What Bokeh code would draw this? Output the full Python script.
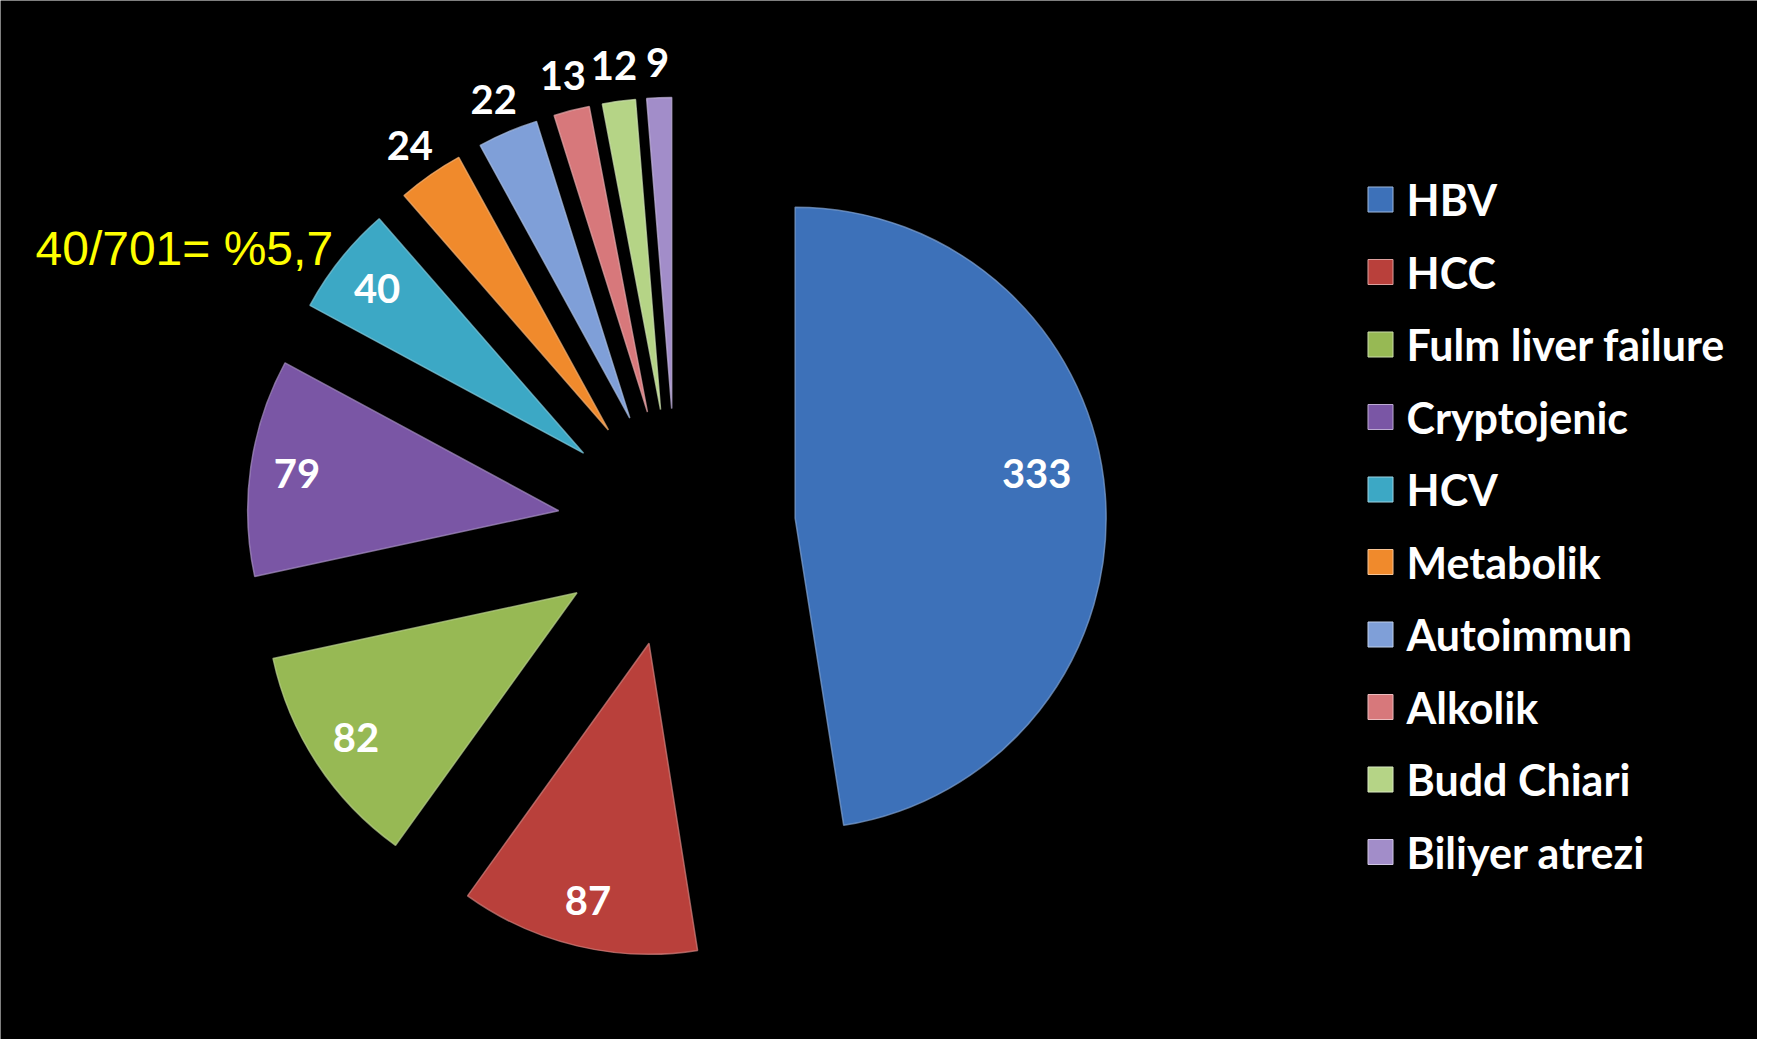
import numpy as np
from bokeh.plotting import figure
from bokeh.models import ColumnDataSource, Range1d
from bokeh.core.properties import value
from bokeh.embed import file_html
from bokeh.resources import INLINE

# ---------------- data ----------------
categories = ["HBV", "HCC", "Fulm liver failure", "Cryptojenic", "HCV",
              "Metabolik", "Autoimmun", "Alkolik", "Budd Chiari", "Biliyer atrezi"]
counts = [333, 87, 82, 79, 40, 24, 22, 13, 12, 9]
note_text = "40/701= %5,7"

# ---------------- style ----------------
colors = ["#3D71B9", "#B9403B", "#97B954", "#7A56A5", "#3CA8C5",
          "#F08A2C", "#7F9FD8", "#D7787B", "#B5D486", "#A28DC9"]
label_angle_shift_deg = [-6, 0, 0, 0, 0, 0, 0, 0, 0, 0]

W, H = 1757, 1039
cx, cy = 676, H - 527          # pie centre before explosion (px)
explode = 119
radius = 311
inside_frac, outside_frac = 0.85, 1.115
big_frac = 0.79


def lighten(hexc, f=0.35):
    r, g, b = (int(hexc[i:i + 2], 16) for i in (1, 3, 5))
    r, g, b = (int(c + (255 - c) * f) for c in (r, g, b))
    return "#%02x%02x%02x" % (r, g, b)


vals = np.array(counts, dtype=float)
total = vals.sum()
cum = np.concatenate([[0.0], np.cumsum(vals)]) / total * 2 * np.pi
start_cw, end_cw = cum[:-1], cum[1:]
mid = (start_cw + end_cw) / 2
apex_x = cx + explode * np.sin(mid)
apex_y = cy + explode * np.cos(mid)

src = ColumnDataSource(dict(
    x=apex_x, y=apex_y,
    start=np.pi / 2 - end_cw, end=np.pi / 2 - start_cw,
    color=colors, edge=[lighten(c) for c in colors],
))

p = figure(width=W, height=H, x_range=Range1d(0, W), y_range=Range1d(0, H),
           output_backend="svg", toolbar_location=None, min_border=0)
p.axis.visible = False
p.grid.visible = False
p.background_fill_color = "black"
p.border_fill_color = "black"
p.outline_line_color = None

p.wedge(x="x", y="y", radius=radius, start_angle="start", end_angle="end",
        fill_color="color", line_color="edge", line_width=1.5, line_alpha=0.7,
        source=src)

# value labels
lx, ly = [], []
for i, v in enumerate(counts):
    if v >= 30:
        a = mid[i] + np.deg2rad(label_angle_shift_deg[i])
        f = big_frac if v > total / 3 else inside_frac
    else:
        a = mid[i]
        f = outside_frac
    lx.append(apex_x[i] + f * radius * np.sin(a))
    ly.append(apex_y[i] + f * radius * np.cos(a))
p.text(x=lx, y=ly, text=[str(v) for v in counts], text_color="white",
       text_font=value("Lato"), text_font_style="bold", text_font_size="40px",
       text_align="center", text_baseline="middle")

# legend
leg_x, leg_y0, leg_step = 1380, H - 199, 72.5
ys = [leg_y0 - i * leg_step for i in range(len(categories))]
p.rect(x=[leg_x] * len(categories), y=ys, width=25, height=25,
       fill_color=colors, line_color=[lighten(c, 0.5) for c in colors], line_width=1)
p.text(x=[leg_x + 26] * len(categories), y=ys, text=categories, text_color="white",
       text_font=value("Lato"), text_font_style="bold", text_font_size="43px",
       text_align="left", text_baseline="middle")

# annotation
p.text(x=[35], y=[H - 248], text=[note_text], text_color="#FFFF00",
       text_font=value("Liberation Sans"), text_font_size="48px",
       text_align="left", text_baseline="alphabetic")

open("out.html", "w").write(file_html(p, INLINE))
